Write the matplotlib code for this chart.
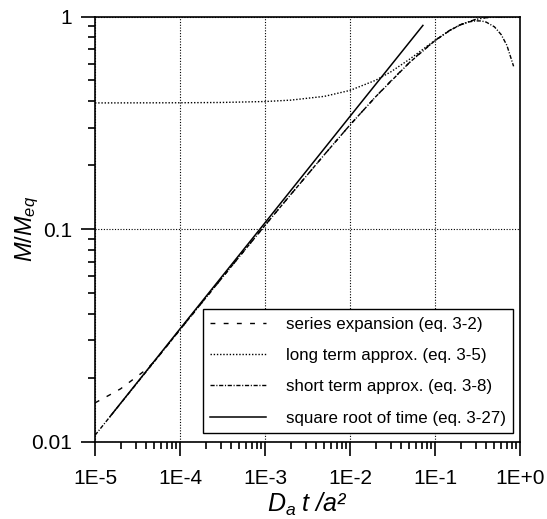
#!/usr/bin/python
"""
Fractional uptake M/Meq of a spherical particle against the
dimensionless time Da t / a^2, comparing the series solution with
its long term, short term and square root of time approximations.
"""

import matplotlib
matplotlib.use("Agg")
import matplotlib.pyplot as plt
from matplotlib import ticker

plt.rcParams["font.family"] = ["Liberation Sans", "DejaVu Sans"]
plt.rcParams["mathtext.fontset"] = "custom"
plt.rcParams["mathtext.rm"] = "Liberation Sans"
plt.rcParams["mathtext.it"] = "Liberation Sans:italic"

# series expansion (eq. 3-2)
TAU_SERIES = [1e-5, 1.5e-5, 2e-5, 3e-5, 4e-5, 5e-5, 1e-4, 2e-4, 5e-4, 1e-3,
              2e-3, 5e-3, 1e-2, 2e-2, 3e-2, 5e-2, 7e-2, 0.1, 0.15, 0.2,
              0.3, 0.4, 0.5, 0.7, 1.0]
M_SERIES = [0.0152, 0.0166, 0.0177, 0.0200, 0.0218, 0.0238, 0.0336, 0.0473,
            0.0742, 0.104, 0.145, 0.224, 0.309, 0.419, 0.496, 0.607, 0.686,
            0.771, 0.862, 0.916, 0.969, 0.988, 0.996, 0.999, 1.0]

# long term approx. (eq. 3-5)
TAU_LONG = [1e-5, 1e-4, 3e-4, 1e-3, 2e-3, 5e-3, 1e-2, 2e-2, 3e-2, 5e-2,
            7e-2, 0.1, 0.15, 0.2, 0.3, 0.4, 0.5, 0.7, 1.0]
M_LONG = [0.392, 0.3927, 0.3939, 0.398, 0.404, 0.421, 0.449, 0.501, 0.548,
          0.629, 0.695, 0.773, 0.862, 0.916, 0.969, 0.988, 0.996, 0.999, 1.0]

# short term approx. (eq. 3-8)
TAU_SHORT = [1e-5, 2e-5, 5e-5, 1e-4, 2e-4, 5e-4, 1e-3, 2e-3, 5e-3, 1e-2,
             2e-2, 5e-2, 0.1, 0.15, 0.2, 0.25, 0.3, 0.35, 0.4, 0.5, 0.6,
             0.7, 0.84]
M_SHORT = [0.0107, 0.0151, 0.0238, 0.0336, 0.0473, 0.0742, 0.104, 0.145,
           0.224, 0.309, 0.419, 0.607, 0.770, 0.861, 0.914, 0.943, 0.954,
           0.953, 0.941, 0.894, 0.822, 0.732, 0.583]

# square root of time (eq. 3-27)
TAU_SQRT = [1.5e-5, 1e-4, 1e-3, 1e-2, 0.072]
M_SQRT = [0.0131, 0.0339, 0.107, 0.339, 0.908]

X_TICKS = [1e-5, 1e-4, 1e-3, 1e-2, 1e-1, 1.0]
X_LABELS = ["1E-5", "1E-4", "1E-3", "1E-2", "1E-1", "1E+0"]
Y_TICKS = [0.01, 0.1, 1.0]
Y_LABELS = ["0.01", "0.1", "1"]


def plot_uptake(filename="out.png"):
    """Draw the four uptake curves on log-log axes and save the figure"""
    fig = plt.figure(figsize=(5.47, 5.19), dpi=100)
    axe = fig.add_axes([0.1737, 0.1493, 0.777, 0.8189])

    axe.plot(TAU_SERIES, M_SERIES, color="black", lw=1.0,
             dashes=(3.5, 6), label="series expansion (eq. 3-2)")
    axe.plot(TAU_LONG, M_LONG, color="black", lw=1.0,
             dashes=(1, 1.3), label="long term approx. (eq. 3-5)")
    axe.plot(TAU_SHORT, M_SHORT, color="black", lw=1.0,
             dashes=(3, 1.2, 0.8, 1.2), label="short term approx. (eq. 3-8)")
    axe.plot(TAU_SQRT, M_SQRT, color="black", lw=1.1,
             label="square root of time (eq. 3-27)")

    axe.set_xscale("log")
    axe.set_yscale("log")
    axe.set_xlim(1e-5, 1.0)
    axe.set_ylim(0.01, 1.0)

    axe.xaxis.set_major_locator(ticker.FixedLocator(X_TICKS))
    axe.xaxis.set_major_formatter(ticker.FixedFormatter(X_LABELS))
    axe.yaxis.set_major_locator(ticker.FixedLocator(Y_TICKS))
    axe.yaxis.set_major_formatter(ticker.FixedFormatter(Y_LABELS))
    subs = [2, 3, 4, 5, 6, 7, 8, 9]
    axe.xaxis.set_minor_locator(ticker.LogLocator(base=10, subs=subs, numticks=20))
    axe.yaxis.set_minor_locator(ticker.LogLocator(base=10, subs=subs, numticks=20))
    axe.xaxis.set_minor_formatter(ticker.NullFormatter())
    axe.yaxis.set_minor_formatter(ticker.NullFormatter())

    axe.tick_params(which="both", direction="out", top=False, right=False,
                    width=1.2, color="black", labelsize=15)
    axe.tick_params(which="major", length=10)
    axe.tick_params(which="minor", length=5)
    axe.tick_params(axis="x", which="major", pad=9.5)
    axe.tick_params(axis="y", which="major", pad=6.5)
    for spine in axe.spines.values():
        spine.set_linewidth(1.2)

    axe.grid(True, which="major", color="black", linestyle=(0, (1, 1.5)),
             linewidth=0.8)
    axe.set_axisbelow(True)

    axe.set_xlabel(r"$D_a\;$t /a²", fontsize=18, style="italic", labelpad=2.5)
    axe.set_ylabel(r"$M/M_{eq}$", fontsize=17, labelpad=-7)

    leg = axe.legend(loc="lower right", bbox_to_anchor=(0.984, 0.019),
                     borderaxespad=0, fontsize=12.2, handlelength=3.3,
                     handletextpad=1.15, borderpad=0.45, labelspacing=0.97,
                     fancybox=False, framealpha=1, edgecolor="black")
    leg.get_frame().set_linewidth(1.0)

    plt.savefig(filename, dpi=100)
    print("Uptake curves image saved")


if __name__ == "__main__":
    plot_uptake()
